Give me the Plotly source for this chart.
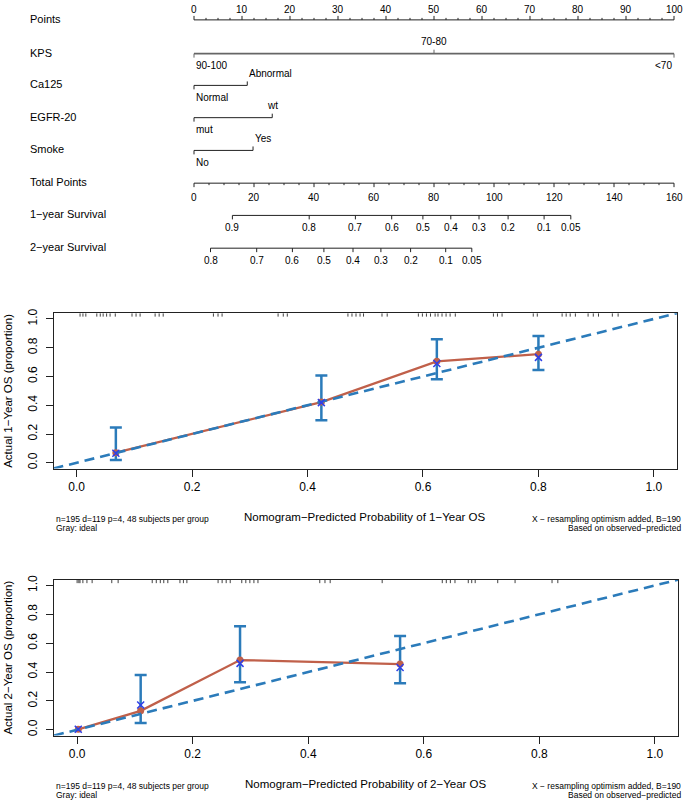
import plotly.graph_objects as go

W, H = 685, 806
FONT = "Liberation Sans, Arial, Helvetica, sans-serif"

# ------------------------------------------------------------------ data: nomogram
ROW_NAMES = ["Points", "KPS", "Ca125", "EGFR-20", "Smoke",
             "Total Points", "1\u2212year Survival", "2\u2212year Survival"]

POINTS_TICKS = list(range(0, 101, 10))
POINTS_MINOR_STEP = 2.5

KPS_LABELS = ["90-100", "70-80", "<70"]
KPS_PTS = [0, 50, 100]
CA125_LABELS = ["Normal", "Abnormal"]
CA125_PTS = [0, 11.1]
EGFR_LABELS = ["mut", "wt"]
EGFR_PTS = [0, 16.3]
SMOKE_LABELS = ["No", "Yes"]
SMOKE_PTS = [0, 12.3]

TOTAL_TICKS = list(range(0, 161, 20))
TOTAL_MINOR_STEP = 5

SURV1_LABELS = ["0.9", "0.8", "0.7", "0.6", "0.5", "0.4", "0.3", "0.2", "0.1", "0.05"]
SURV1_AT = [12.8, 38.4, 53.8, 65.9, 76.3, 85.6, 95.0, 104.7, 116.7, 125.6]
SURV2_LABELS = ["0.8", "0.7", "0.6", "0.5", "0.4", "0.3", "0.2", "0.1", "0.05"]
SURV2_AT = [5.5, 20.9, 32.8, 43.3, 53.0, 62.3, 72.2, 83.9, 92.6]

# ------------------------------------------------------------------ data: calibration
CAL_TICKS = [0.0, 0.2, 0.4, 0.6, 0.8, 1.0]

CAL1_PRED = [0.068, 0.424, 0.624, 0.800]
CAL1_OBS = [0.070, 0.422, 0.705, 0.755]
CAL1_LO = [0.020, 0.296, 0.581, 0.645]
CAL1_HI = [0.245, 0.606, 0.859, 0.882]
CAL1_CORR = [0.066, 0.418, 0.690, 0.733]
RUG_1Y = [0.006, 0.011, 0.016, 0.035, 0.041, 0.046, 0.052, 0.058, 0.067, 0.096,
          0.103, 0.110, 0.136, 0.143, 0.150, 0.237, 0.245, 0.252, 0.349, 0.358,
          0.365, 0.470, 0.477, 0.484, 0.491, 0.497, 0.529, 0.538, 0.592, 0.599,
          0.606, 0.613, 0.621, 0.626, 0.633, 0.640, 0.647, 0.656, 0.722, 0.729,
          0.737, 0.791, 0.798, 0.841, 0.848, 0.855, 0.864, 0.886, 0.895, 0.904,
          0.928, 0.938]

CAL2_PRED = [0.002, 0.110, 0.282, 0.559]
CAL2_OBS = [0.003, 0.131, 0.483, 0.455]
CAL2_LO = [0.003, 0.046, 0.329, 0.322]
CAL2_HI = [0.003, 0.379, 0.717, 0.650]
CAL2_CORR = [0.003, 0.172, 0.460, 0.432]
RUG_2Y = [0.000, 0.003, 0.005, 0.010, 0.017, 0.026, 0.060, 0.071, 0.130, 0.137,
          0.144, 0.150, 0.157, 0.178, 0.184, 0.190, 0.244, 0.251, 0.258, 0.265,
          0.285, 0.292, 0.299, 0.306, 0.313, 0.420, 0.429, 0.438, 0.528, 0.632,
          0.639, 0.646, 0.654, 0.677, 0.683, 0.689, 0.728, 0.758, 0.822, 0.832]

NOTE_LEFT = ["n=195 d=119 p=4, 48 subjects per group", "Gray: ideal"]
NOTE_RIGHT = ["X \u2212 resampling optimism added, B=190", "Based on observed\u2212predicted"]
XTITLES = ["Nomogram\u2212Predicted Probability of 1\u2212Year OS",
           "Nomogram\u2212Predicted Probability of 2\u2212Year OS"]
YTITLES = ["Actual 1\u2212Year OS (proportion)", "Actual 2\u2212Year OS (proportion)"]

# ------------------------------------------------------------------ layout constants
NOMO_H = 270
ROW_Y = [15, 49, 81, 113.5, 146.5, 179.5, 212, 245]
PT0_PX, PT100_PX = 194, 674
PX_PER_PT = (PT100_PX - PT0_PX) / 100.0
TOTAL_SCALE = 1.6
ROW_LABEL_X = 28

CAL_RANGE = [-0.04, 1.04]
CAL_BOX = [  # left, right, top, bottom (px)
    (53.5, 677, 310.5, 467),
    (54, 678, 579, 736),
]
RED = "#C0604A"
BLUE = "#2B7BBA"
XBLUE = "#2F3FE8"

fig = go.Figure()
annotations = []


def add_segments(xs, y0, y1, xa, color="#222222", width=1):
    X, Y = [], []
    for v in xs:
        X += [v, v, None]
        Y += [y0, y1, None]
    fig.add_trace(go.Scatter(x=X, y=Y, xaxis=xa, yaxis="y", mode="lines",
                             line=dict(color=color, width=width),
                             hoverinfo="skip", showlegend=False))


def add_line(x0, x1, y, xa, color="#222222", width=1):
    fig.add_trace(go.Scatter(x=[x0, x1], y=[y, y], xaxis=xa, yaxis="y", mode="lines",
                             line=dict(color=color, width=width),
                             hoverinfo="skip", showlegend=False))


def label(text, x, y, xref, xanchor="center", size=10):
    annotations.append(dict(text=text, x=x, y=y, xref=xref, yref="y",
                            xanchor=xanchor, yanchor="middle", showarrow=False,
                            font=dict(size=size, color="black", family=FONT)))


# row names
for name, ry in zip(ROW_NAMES, ROW_Y):
    annotations.append(dict(text=name, x=ROW_LABEL_X / W, y=ry - 1, xref="paper", yref="y",
                            xanchor="left", yanchor="middle", showarrow=False,
                            font=dict(size=11, color="black", family=FONT)))

# Points axis
ry = ROW_Y[0]
add_line(POINTS_TICKS[0], POINTS_TICKS[-1], ry, "x")
minor = [i * POINTS_MINOR_STEP for i in range(int(100 / POINTS_MINOR_STEP) + 1)]
add_segments([m for m in minor if m not in POINTS_TICKS], ry, ry - 2, "x")
add_segments(POINTS_TICKS, ry, ry - 4, "x")
for t in POINTS_TICKS:
    label(str(t), t, ry - 10, "x", size=10)


def discrete_row(labels, pts, ry, sides, anchors, color="#222222", width=1):
    add_line(min(pts), max(pts), ry, "x", color, width)
    for lab, p, side, anc in zip(labels, pts, sides, anchors):
        d = -1 if side == "above" else 1
        add_segments([p], ry, ry + 4 * d, "x", color, 1)
        label(lab, p, ry + 12 * d, "x", xanchor=anc, size=10)


discrete_row(KPS_LABELS, KPS_PTS, ROW_Y[1], ["below", "above", "below"],
             ["left", "center", "right"], color="#666666", width=1.8)
discrete_row(CA125_LABELS, CA125_PTS, ROW_Y[2], ["below", "above"], ["left", "left"])
discrete_row(EGFR_LABELS, EGFR_PTS, ROW_Y[3], ["below", "above"], ["left", "center"])
discrete_row(SMOKE_LABELS, SMOKE_PTS, ROW_Y[4], ["below", "above"], ["left", "left"])

# Total points axis
ry = ROW_Y[5]
add_line(TOTAL_TICKS[0], TOTAL_TICKS[-1], ry, "x2")
tminor = [i * TOTAL_MINOR_STEP for i in range(int(160 / TOTAL_MINOR_STEP) + 1)]
add_segments([m for m in tminor if m not in TOTAL_TICKS], ry, ry + 2, "x2")
add_segments(TOTAL_TICKS, ry, ry + 4, "x2")
for t in TOTAL_TICKS:
    label(str(t), t, ry + 14, "x2", size=10)

# survival axes
for labs, at, ry in [(SURV1_LABELS, SURV1_AT, ROW_Y[6]), (SURV2_LABELS, SURV2_AT, ROW_Y[7])]:
    add_line(min(at), max(at), ry, "x2")
    add_segments(at, ry, ry + 4, "x2")
    for lab, a in zip(labs, at):
        label(lab, a, ry + 12, "x2", size=10)

# ------------------------------------------------------------------ calibration panels
panels = [
    (CAL1_PRED, CAL1_OBS, CAL1_LO, CAL1_HI, CAL1_CORR, RUG_1Y),
    (CAL2_PRED, CAL2_OBS, CAL2_LO, CAL2_HI, CAL2_CORR, RUG_2Y),
]
layout_axes = {}
for k, (pred, obs, lo, hi, corr, rug) in enumerate(panels):
    xa, ya = "x%d" % (k + 3), "y%d" % (k + 3)
    left, right, top, bottom = CAL_BOX[k]

    # rug at top
    rx, ryy = [], []
    for v in rug:
        rx += [v, v, None]
        ryy += [CAL_RANGE[1], CAL_RANGE[1] - 0.024, None]
    fig.add_trace(go.Scatter(x=rx, y=ryy, xaxis=xa, yaxis=ya, mode="lines",
                             line=dict(color="#111111", width=0.8),
                             hoverinfo="skip", showlegend=False))

    # error bars (only where interval has length)
    idx = [i for i in range(len(pred)) if hi[i] > lo[i]]
    fig.add_trace(go.Scatter(
        x=[pred[i] for i in idx], y=[obs[i] for i in idx], xaxis=xa, yaxis=ya,
        mode="markers", marker=dict(size=1, color="rgba(0,0,0,0)"),
        error_y=dict(type="data", symmetric=False,
                     array=[hi[i] - obs[i] for i in idx],
                     arrayminus=[obs[i] - lo[i] for i in idx],
                     color=BLUE, thickness=2.5, width=6),
        hoverinfo="skip", showlegend=False))

    # observed line
    fig.add_trace(go.Scatter(x=pred, y=obs, xaxis=xa, yaxis=ya, mode="lines+markers",
                             line=dict(color=RED, width=2.3),
                             marker=dict(color=RED, size=7, symbol="circle"),
                             hoverinfo="skip", showlegend=False))

    # ideal line
    fig.add_trace(go.Scatter(x=CAL_RANGE, y=CAL_RANGE, xaxis=xa, yaxis=ya, mode="lines",
                             line=dict(color=BLUE, width=2.6, dash="10px,6px"),
                             hoverinfo="skip", showlegend=False))

    # bias-corrected
    fig.add_trace(go.Scatter(x=pred, y=corr, xaxis=xa, yaxis=ya, mode="markers",
                             marker=dict(symbol="x-thin-open", size=7, color=XBLUE,
                                         line=dict(color=XBLUE, width=1.5)),
                             hoverinfo="skip", showlegend=False))

    common = dict(range=CAL_RANGE, showgrid=False, zeroline=False, showline=True,
                  mirror=True, linecolor="#222222", linewidth=1, ticks="outside",
                  ticklen=7, tickwidth=1, tickcolor="#222222",
                  tickvals=CAL_TICKS, tickformat=".1f",
                  tickfont=dict(size=12, color="black", family=FONT))
    layout_axes["xaxis%d" % (k + 3)] = dict(common, domain=[left / W, right / W], anchor=ya)
    layout_axes["yaxis%d" % (k + 3)] = dict(common, domain=[1 - bottom / H, 1 - top / H],
                                            anchor=xa, tickangle=-90, ticklabelstandoff=4)

    cx = (left + right) / 2
    annotations.append(dict(text=XTITLES[k], x=cx / W, y=1 - (bottom + 49) / H,
                            xref="paper", yref="paper", xanchor="center", yanchor="middle",
                            showarrow=False, font=dict(size=11.5, color="black", family=FONT)))
    annotations.append(dict(text=YTITLES[k], x=8 / W, y=1 - ((top + bottom) / 2) / H,
                            xref="paper", yref="paper", xanchor="center", yanchor="middle",
                            textangle=-90, showarrow=False,
                            font=dict(size=11.5, color="black", family=FONT)))
    for j, (tl, tr) in enumerate(zip(NOTE_LEFT, NOTE_RIGHT)):
        yy = 1 - (bottom + 51 + 9 * j) / H
        annotations.append(dict(text=tl, x=left / W, y=yy, xref="paper", yref="paper",
                                xanchor="left", yanchor="middle", showarrow=False,
                                font=dict(size=8.5, color="black", family=FONT)))
        annotations.append(dict(text=tr, x=683 / W, y=yy, xref="paper", yref="paper",
                                xanchor="right", yanchor="middle", showarrow=False,
                                font=dict(size=8.5, color="black", family=FONT)))

x_rng = [-PT0_PX / PX_PER_PT, (W - PT0_PX) / PX_PER_PT]
fig.update_layout(
    width=W, height=H, autosize=False,
    margin=dict(l=0, r=0, t=0, b=0),
    paper_bgcolor="white", plot_bgcolor="white",
    showlegend=False,
    font=dict(family=FONT, color="black"),
    xaxis=dict(domain=[0, 1], range=x_rng, visible=False, anchor="y"),
    xaxis2=dict(range=[v * TOTAL_SCALE for v in x_rng], visible=False,
                overlaying="x", anchor="y"),
    yaxis=dict(domain=[1 - NOMO_H / H, 1], range=[NOMO_H, 0], visible=False, anchor="x"),
    annotations=annotations,
    **layout_axes,
)

fig.write_html(
    "out.html",
    config={"displayModeBar": False, "staticPlot": True},
    post_script="document.body.style.margin='0';document.body.style.padding='0';"
                "document.documentElement.style.overflow='hidden';",
)
